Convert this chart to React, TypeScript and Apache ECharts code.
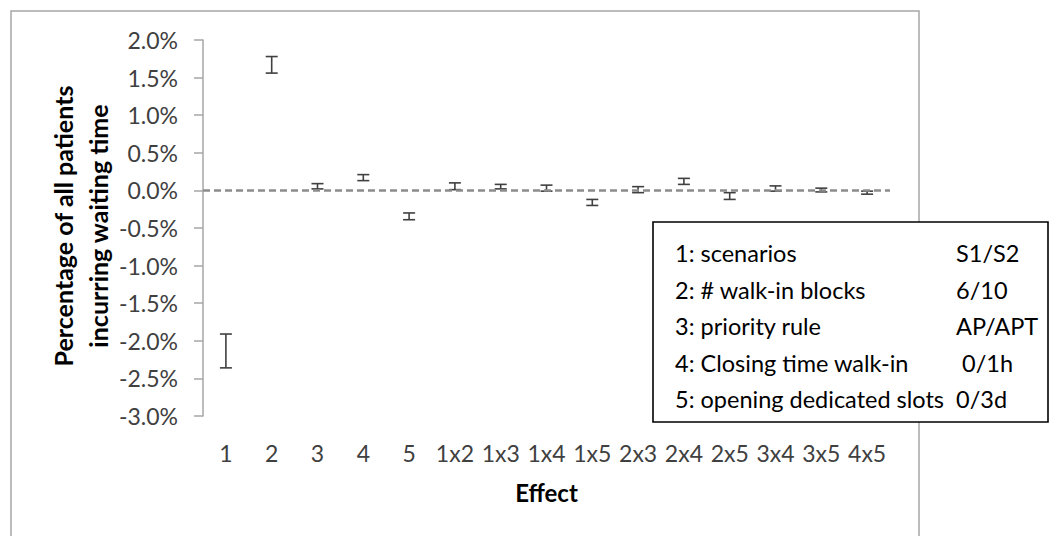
import React, { useEffect, useRef } from "react";
import * as echarts from "echarts";

const categories = ["1", "2", "3", "4", "5", "1x2", "1x3", "1x4", "1x5", "2x3", "2x4", "2x5", "3x4", "3x5", "4x5"];
// error bar lower / upper bounds (in %)
const lowValues = [-2.36, 1.56, 0.02, 0.13, -0.39, 0.01, 0.02, -0.01, -0.20, -0.03, 0.08, -0.12, -0.01, -0.02, -0.05];
const highValues = [-1.91, 1.78, 0.09, 0.21, -0.30, 0.10, 0.08, 0.07, -0.12, 0.05, 0.16, -0.03, 0.06, 0.03, -0.01];
const yTicks = { min: -3, max: 2, interval: 0.5 };
const legendLeft = ["1: scenarios", "2: # walk-in blocks", "3: priority rule", "4: Closing time walk-in", "5: opening dedicated slots"];
const legendRight = ["S1/S2", "6/10", "AP/APT", " 0/1h", "0/3d"];

const FONT = "Lato, 'Open Sans', sans-serif";

export default function App() {
  const ref = useRef<HTMLDivElement>(null);
  useEffect(() => {
    if (!ref.current) return;
    const chart = echarts.init(ref.current, undefined, { renderer: "svg" });
    const data = categories.map((_, i) => [i, lowValues[i], highValues[i]]);
    const barStyle = { stroke: "#404040", lineWidth: 1.6 };
    const legendChildren: any[] = [
      {
        type: "rect",
        shape: { x: 653, y: 222, width: 395, height: 200 },
        style: { fill: "#fff", stroke: "#000", lineWidth: 1.6 },
      },
    ];
    legendLeft.forEach((t, i) => {
      legendChildren.push({
        type: "text",
        x: 675,
        y: 253 + 36.5 * i,
        style: { text: t, fill: "#000", font: `23.5px ${FONT}`, textVerticalAlign: "middle", textAlign: "left" },
      });
    });
    legendRight.forEach((t, i) => {
      legendChildren.push({
        type: "text",
        x: 956,
        y: 253 + 36.5 * i,
        style: { text: t, fill: "#000", font: `23.5px ${FONT}`, textVerticalAlign: "middle", textAlign: "left" },
      });
    });

    chart.setOption({
      animation: false,
      backgroundColor: "#fff",
      grid: { left: 203, right: 169, top: 40, bottom: 120 },
      xAxis: {
        type: "category",
        data: categories,
        position: "bottom",
        axisLine: { show: false },
        axisTick: { show: false },
        axisLabel: { color: "#404040", fontSize: 23, fontFamily: FONT, margin: 25, interval: 0 },
        name: "Effect",
        nameLocation: "middle",
        nameGap: 64,
        nameTextStyle: { color: "#000", fontSize: 24, fontWeight: "bold", fontFamily: FONT },
      },
      yAxis: {
        type: "value",
        min: yTicks.min,
        max: yTicks.max,
        interval: yTicks.interval,
        axisLine: { show: true, lineStyle: { color: "#a6a6a6", width: 1.5 } },
        axisTick: { show: true, inside: false, length: 9, lineStyle: { color: "#a6a6a6", width: 1.5 } },
        splitLine: { show: false },
        axisLabel: {
          color: "#404040",
          fontSize: 23,
          fontFamily: FONT,
          margin: 25,
          formatter: (v: number) => `${v.toFixed(1)}%`,
        },
      },
      graphic: [
        {
          type: "rect",
          shape: { x: 11, y: 11, width: 908, height: 600 },
          style: { fill: "none", stroke: "#a6a6a6", lineWidth: 1.5 },
          z: -1,
        },
        {
          type: "text",
          x: 80,
          y: 226,
          rotation: Math.PI / 2,
          style: {
            text: "Percentage of all patients\nincurring waiting time",
            fill: "#000",
            font: `bold 25px ${FONT}`,
            textAlign: "center",
            textVerticalAlign: "middle",
            lineHeight: 35,
          },
        },
        { type: "group", children: legendChildren, z: 100 },
      ],
      series: [
        {
          type: "custom",
          data,
          encode: { x: 0, y: [1, 2] },
          renderItem: (_params: any, api: any) => {
            const x = api.value(0);
            const pLo = api.coord([x, api.value(1)]);
            const pHi = api.coord([x, api.value(2)]);
            const h = 6;
            return {
              type: "group",
              children: [
                { type: "line", shape: { x1: pLo[0], y1: pLo[1], x2: pHi[0], y2: pHi[1] }, style: barStyle },
                { type: "line", shape: { x1: pLo[0] - h, y1: pLo[1], x2: pLo[0] + h, y2: pLo[1] }, style: barStyle },
                { type: "line", shape: { x1: pHi[0] - h, y1: pHi[1], x2: pHi[0] + h, y2: pHi[1] }, style: barStyle },
              ],
            };
          },
          markLine: {
            silent: true,
            symbol: "none",
            label: { show: false },
            lineStyle: { type: [7, 4], color: "#8c8c8c", width: 2.5 },
            data: [{ yAxis: 0 }],
          },
          z: 3,
        },
      ],
    });
    return () => chart.dispose();
  }, []);
  return <div ref={ref} style={{ position: "fixed", left: 0, top: 0, width: 1059, height: 536 }} />;
}
